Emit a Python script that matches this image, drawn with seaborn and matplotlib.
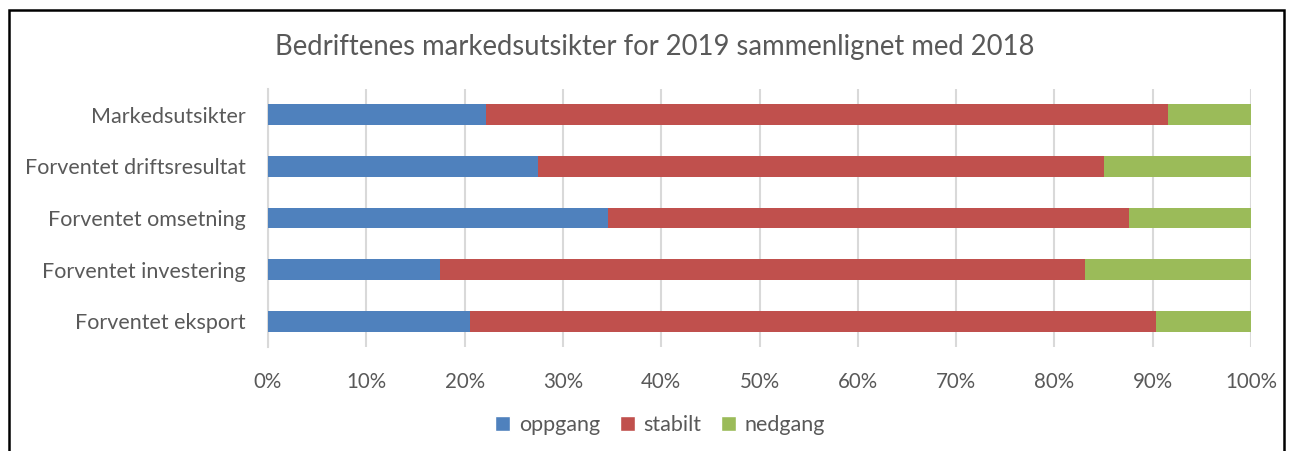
import matplotlib
matplotlib.use("Agg")
import matplotlib.pyplot as plt
from matplotlib.patches import Rectangle, Patch
from matplotlib.ticker import PercentFormatter
import seaborn as sns
import pandas as pd

categories = ["Markedsutsikter", "Forventet driftsresultat", "Forventet omsetning",
              "Forventet investering", "Forventet eksport"]
oppgang = [22.2, 27.5, 34.6, 17.5, 20.5]
stabilt = [69.4, 57.5, 53.0, 65.6, 69.8]
nedgang = [8.4, 15.0, 12.4, 16.9, 9.7]
series = ["oppgang", "stabilt", "nedgang"]
colors = {"oppgang": "#4F81BD", "stabilt": "#C0504D", "nedgang": "#9BBB59"}
title = "Bedriftenes markedsutsikter for 2019 sammenlignet med 2018"

sns.set_style("white")
plt.rcParams["font.family"] = ["Lato", "DejaVu Sans"]
grey = "#595959"

df = pd.DataFrame({"kategori": categories, "oppgang": oppgang,
                   "stabilt": stabilt, "nedgang": nedgang})
# cumulative ends for the stacked look
df["end_oppgang"] = df["oppgang"]
df["end_stabilt"] = df["oppgang"] + df["stabilt"]
df["end_nedgang"] = df["end_stabilt"] + df["nedgang"]

fig = plt.figure(figsize=(12.91, 4.51), dpi=100)
ax = fig.add_axes([268 / 1291, 1 - 347 / 451, (1251 - 268) / 1291, (347 - 89) / 451])

for s in reversed(series):
    sns.barplot(data=df, x="end_" + s, y="kategori", color=colors[s], width=0.4,
                ax=ax, orient="h", saturation=1, linewidth=0, zorder=3)

ax.set_xlim(0, 100)
ax.set_xticks(range(0, 101, 10))
ax.xaxis.set_major_formatter(PercentFormatter(decimals=0))
ax.grid(axis="x", color="#D9D9D9", linewidth=1.5, zorder=0)
ax.set_axisbelow(True)
for side in ["top", "right", "bottom"]:
    ax.spines[side].set_visible(False)
ax.spines["left"].set_color("#D9D9D9")
ax.spines["left"].set_linewidth(1.5)
ax.set_xlabel("")
ax.set_ylabel("")
ax.tick_params(axis="y", length=0, labelsize=15.5, colors=grey, pad=16)
ax.tick_params(axis="x", length=0, labelsize=14.8, colors=grey, pad=18)

fig.text(655 / 1291, 1 - 47 / 451, title, ha="center", va="center",
         fontsize=19.8, color=grey)

handles = [Patch(facecolor=colors[s], label=s) for s in series]
fig.legend(handles=handles, loc="center", bbox_to_anchor=(660 / 1291, 1 - 425 / 451),
           ncol=3, frameon=False, fontsize=15.5, labelcolor=grey,
           handlelength=0.7, handleheight=0.7, handletextpad=0.4, columnspacing=0.9)

fig.patches.append(Rectangle((9 / 1291, -0.05), (1284 - 9) / 1291, 1.05 - 10 / 451,
                             transform=fig.transFigure, fill=False,
                             edgecolor="black", linewidth=1.8))

fig.savefig("out.png", dpi=100, facecolor="white")
